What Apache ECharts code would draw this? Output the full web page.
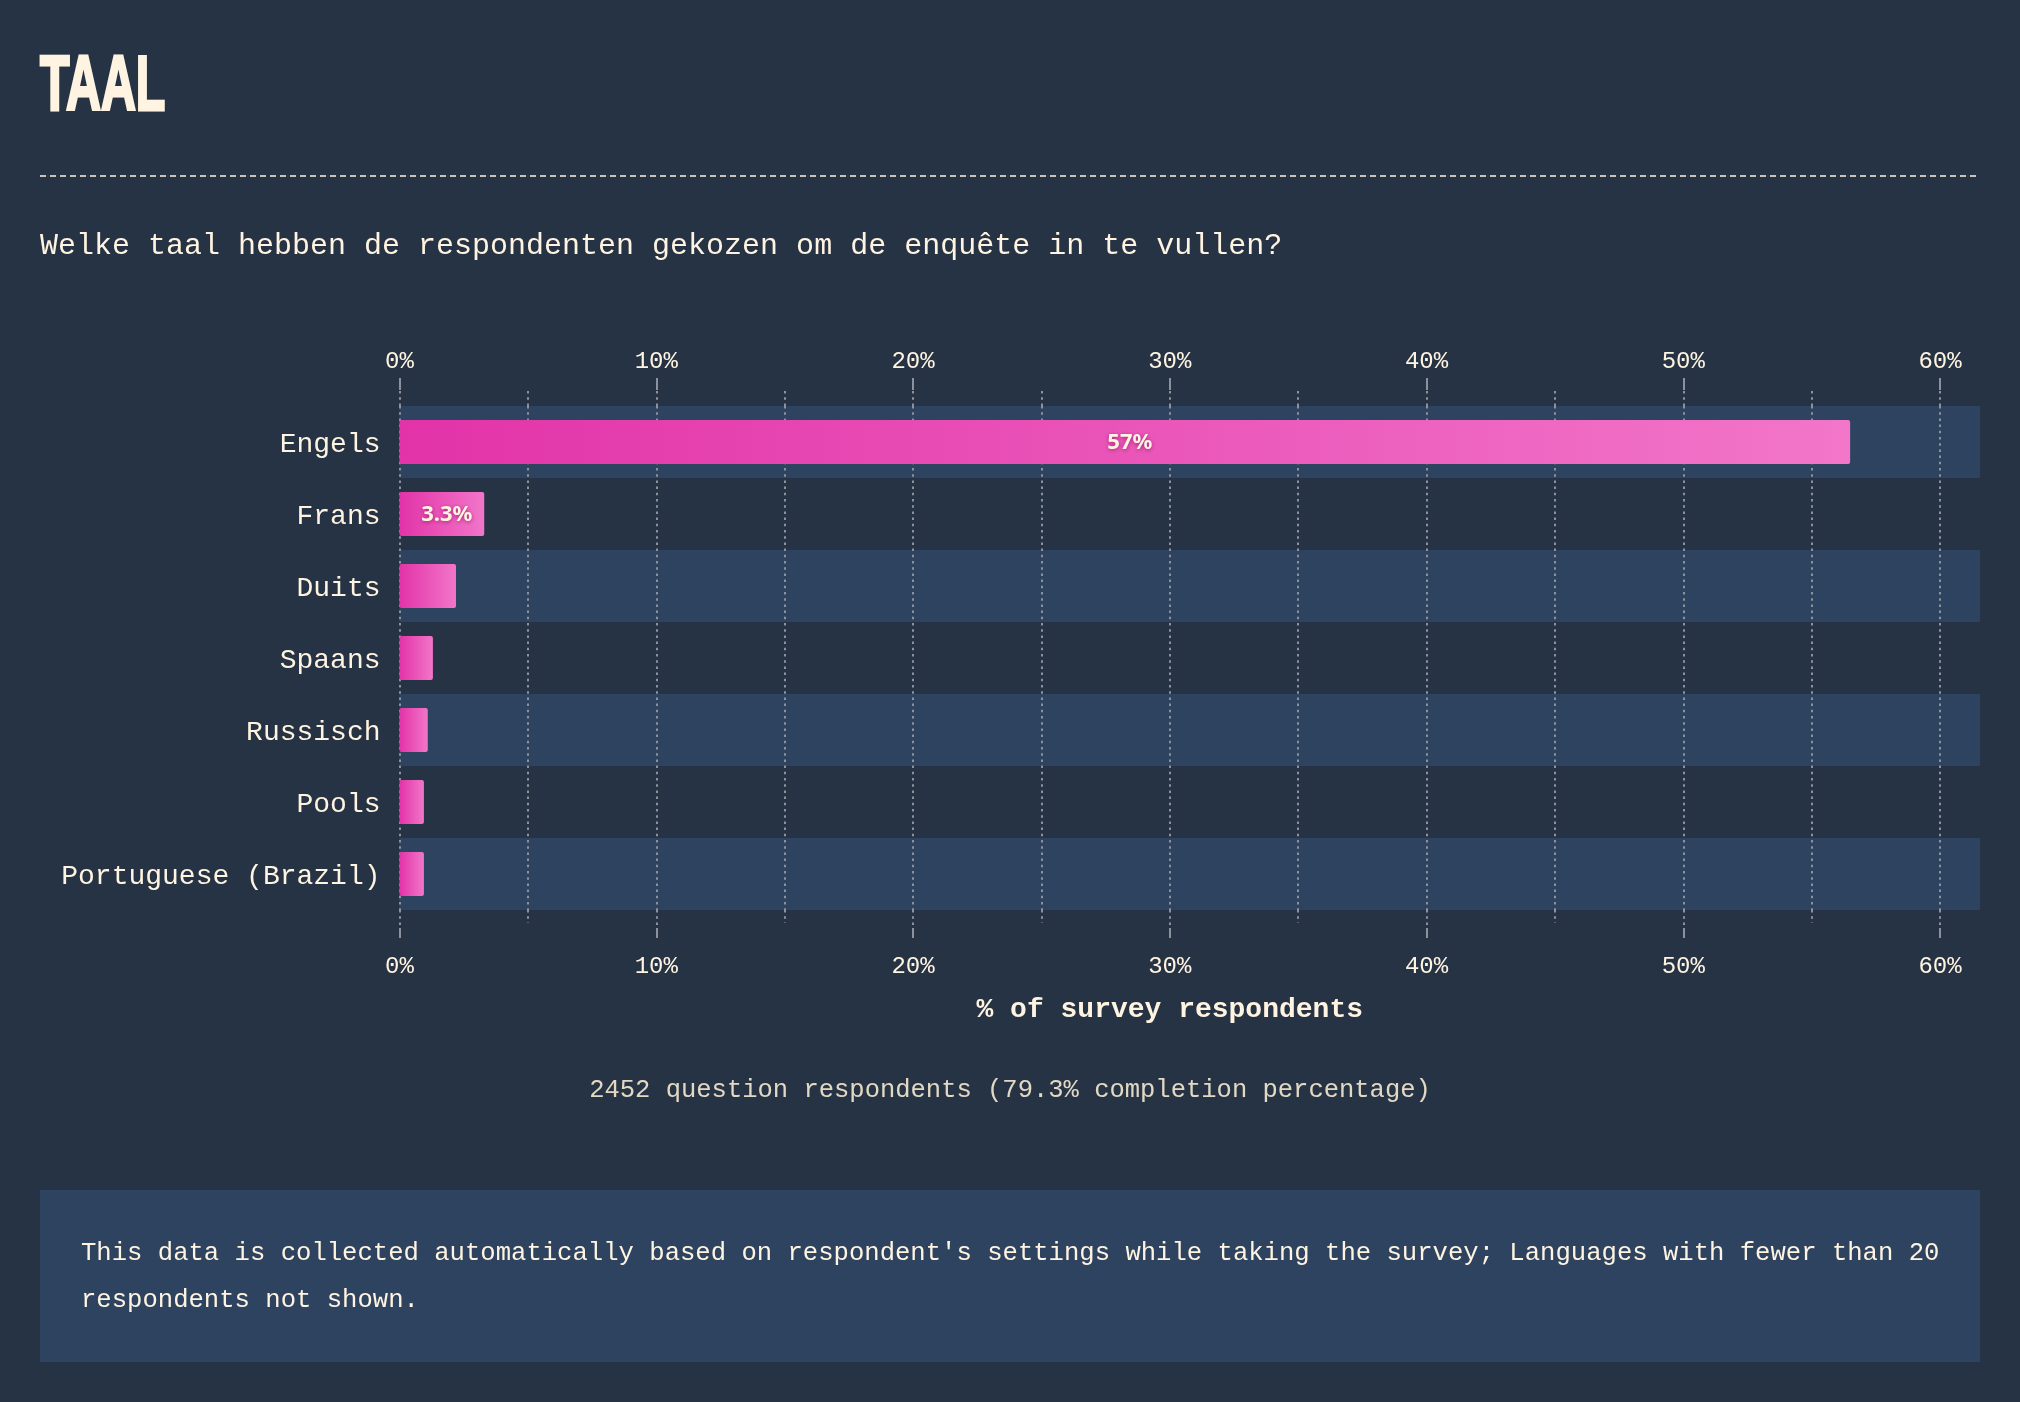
<!DOCTYPE html>
<html>
<head>
<meta charset="utf-8">
<script src="https://cdn.jsdelivr.net/npm/echarts@6/dist/echarts.min.js"></script>
<style>
html,body{margin:0;padding:0;background:#263344;}
#chart{width:2020px;height:1402px;}
</style>
</head>
<body>
<div id="chart"></div>
<script>
const categories = ['Engels', 'Frans', 'Duits', 'Spaans', 'Russisch', 'Pools', 'Portuguese (Brazil)'];
const shares = [56.5, 3.3, 2.2, 1.3, 1.1, 0.95, 0.95];
const tickValues = [0, 10, 20, 30, 40, 50, 60];
const titleText = 'TAAL';
const subtitleText = 'Welke taal hebben de respondenten gekozen om de enquête in te vullen?';
const axisTitle = '% of survey respondents';
const footerText = '2452 question respondents (79.3% completion percentage)';
const noteText = "This data is collected automatically based on respondent's settings while taking the survey; Languages with fewer than 20 respondents not shown.";

const CREAM = '#fff4e1';
const GRID = '#8b929c';
const BAND = '#2d4360';
const MONO = '"Liberation Mono", "DejaVu Sans Mono", monospace';

const chart = echarts.init(document.getElementById('chart'), null, {renderer: 'canvas'});

const xMin = tickValues[0], xMax = tickValues[tickValues.length - 1], xStep = tickValues[1] - tickValues[0];
const dotted = {color: GRID, width: 2, type: [2.5, 3.7]};
const solid = {color: GRID, width: 2, type: 'solid'};

function baseX(extra) {
  return Object.assign({
    type: 'value', min: xMin, max: xMax, interval: xStep,
    axisLine: {show: false},
    splitLine: {show: false},
    minorSplitLine: {show: false}
  }, extra);
}

const option = {
  backgroundColor: '#263344',
  animation: false,
  grid: {left: 399.5, right: 80, top: 406, bottom: 492, containLabel: false},
  xAxis: [
    baseX({
      position: 'top',
      axisLabel: {formatter: '{value}%', color: CREAM, fontFamily: MONO, fontSize: 24, margin: 32},
      axisTick: {show: true, length: 28, lineStyle: dotted},
      minorTick: {show: true, splitNumber: 2, length: 18, lineStyle: dotted},
      splitLine: {show: true, lineStyle: dotted},
      minorSplitLine: {show: true, lineStyle: dotted}
    }),
    baseX({
      position: 'bottom',
      axisLabel: {formatter: '{value}%', color: CREAM, fontFamily: MONO, fontSize: 24, margin: 45},
      axisTick: {show: true, length: 18, lineStyle: dotted},
      minorTick: {show: true, splitNumber: 2, length: 13, lineStyle: dotted},
      name: axisTitle,
      nameLocation: 'middle',
      nameGap: 86,
      nameTextStyle: {color: CREAM, fontFamily: MONO, fontSize: 28, fontWeight: 'bold'}
    }),
    baseX({
      position: 'top', offset: 16,
      axisLabel: {show: false},
      axisTick: {show: true, length: 12, lineStyle: solid}
    }),
    baseX({
      position: 'bottom', offset: 18,
      axisLabel: {show: false},
      axisTick: {show: true, length: 10, lineStyle: solid}
    })
  ],
  yAxis: {
    type: 'category',
    inverse: true,
    data: categories,
    axisLine: {show: false},
    axisTick: {show: false},
    axisLabel: {
      formatter: '{l|{value}}',
      margin: 19,
      rich: {l: {color: CREAM, fontFamily: MONO, fontSize: 28, padding: [6, 0, 0, 0]}}
    }
  },
  series: [
    {
      type: 'custom',
      z: -1,
      xAxisIndex: 0,
      clip: false,
      encode: {x: 0, y: 1},
      data: categories.map((c, i) => [0, i]),
      silent: true,
      renderItem: function (params, api) {
        const idx = api.value(1);
        if (idx % 2 === 1) return null;
        const c = api.coord([0, idx]);
        const h = api.size([0, 1])[1];
        const cs = params.coordSys;
        return {
          type: 'rect',
          shape: {x: c[0], y: c[1] - h / 2, width: cs.x + cs.width + 40 - c[0], height: h},
          style: {fill: BAND}
        };
      }
    },
    {
      type: 'bar',
      xAxisIndex: 0,
      data: shares,
      barCategoryGap: '39%',
      itemStyle: {
        borderRadius: 2,
        color: new echarts.graphic.LinearGradient(0, 0, 1, 0, [
          {offset: 0, color: '#e233a8'},
          {offset: 1, color: '#f276c9'}
        ])
      },
      label: {
        show: true,
        position: 'inside',
        offset: [5, 1],
        formatter: function (p) {
          const v = p.value;
          if (v < 3) return '';
          return v >= 10 ? Math.round(v) + '%' : v.toFixed(1) + '%';
        },
        color: CREAM,
        fontFamily: '"Noto Sans", "DejaVu Sans", sans-serif',
        fontWeight: 'bold',
        fontSize: 22,
        textShadowColor: 'rgba(150,20,100,0.8)',
        textShadowBlur: 4,
        textShadowOffsetY: 1
      }
    }
  ],
  graphic: [
    {
      type: 'text', x: 40, y: 88, scaleX: 0.62,
      style: {text: titleText, x: 0, y: 0, fill: CREAM, stroke: CREAM, lineWidth: 3, font: 'bold 78px "Liberation Sans", sans-serif', verticalAlign: 'middle', align: 'left'}
    },
    {
      type: 'line',
      shape: {x1: 40, y1: 176, x2: 1980, y2: 176},
      style: {stroke: CREAM, lineWidth: 1.5, lineDash: [6, 4]}
    },
    {
      type: 'text', x: 40, y: 246,
      style: {text: subtitleText, fill: CREAM, font: '30px ' + MONO, verticalAlign: 'middle', align: 'left'}
    },
    {
      type: 'text', x: 1010, y: 1090,
      style: {text: footerText, fill: '#e2d8c4', font: '25.5px ' + MONO, verticalAlign: 'middle', align: 'center'}
    },
    {
      type: 'rect', z: -10,
      shape: {x: 40, y: 1190, width: 1940, height: 172},
      style: {fill: BAND}
    },
    {
      type: 'text', x: 81, y: 1230,
      style: {text: noteText, fill: CREAM, font: '25.6px ' + MONO, verticalAlign: 'top', align: 'left', width: 1880, overflow: 'break', lineHeight: 47}
    }
  ]
};

chart.setOption(option);
</script>
</body>
</html>
